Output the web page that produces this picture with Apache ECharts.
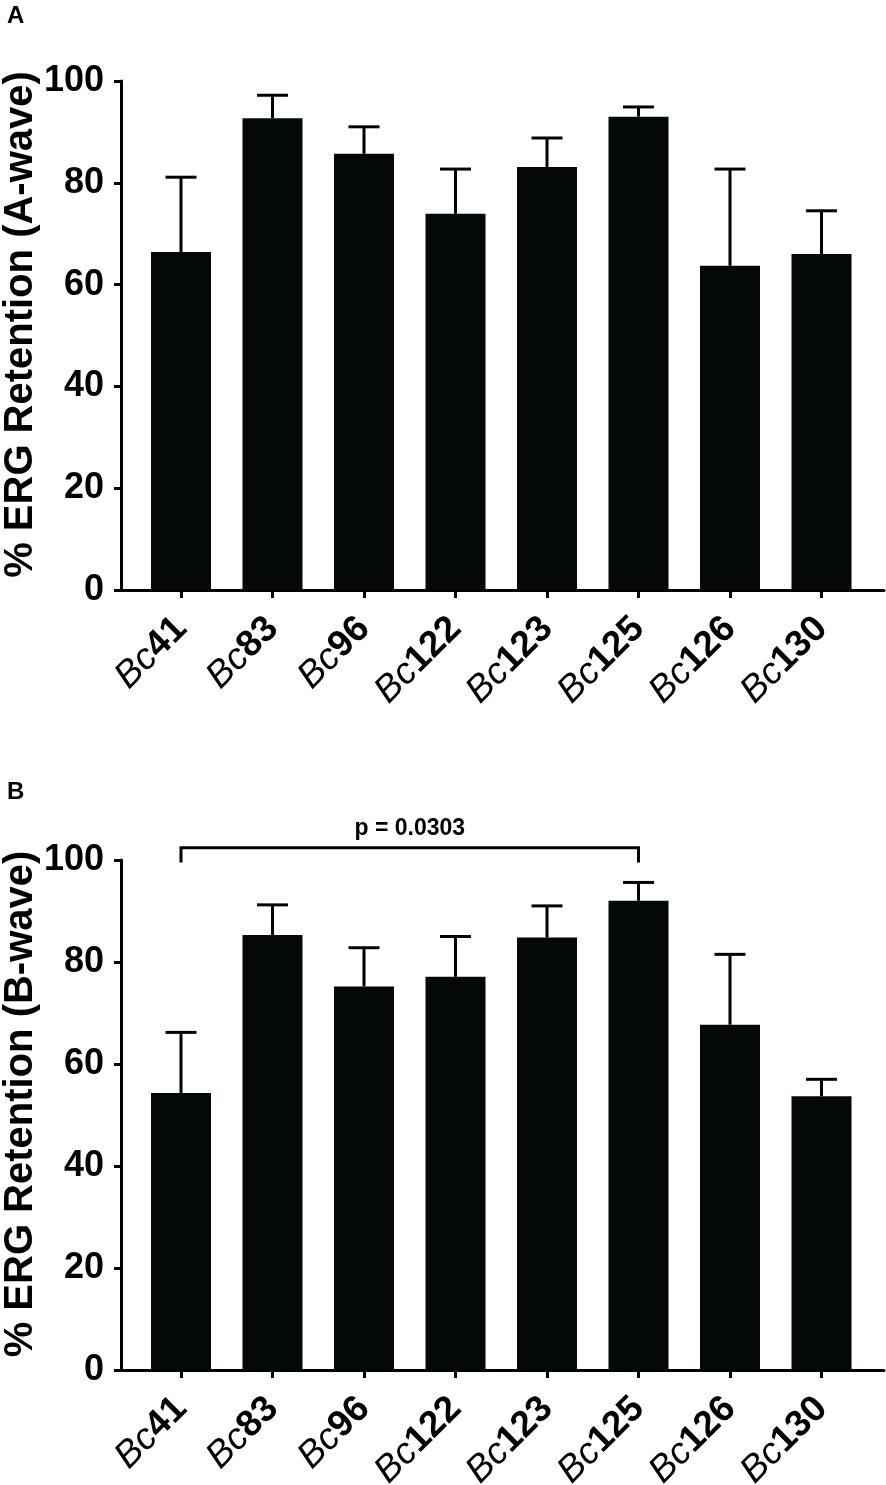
<!DOCTYPE html>
<html lang="en">
<head>
<meta charset="UTF-8">
<title>ERG Retention</title>
<script src="https://cdn.jsdelivr.net/npm/echarts@6/dist/echarts.min.js"></script>
<style>
  html, body { margin: 0; padding: 0; background: #fff; }
  #chart { width: 886px; height: 1485px; }
</style>
</head>
<body>
<div id="chart"></div>
<script>
// values
var strains = ['41', '83', '96', '122', '123', '125', '126', '130'];
var aWaveMean  = [66.4, 92.7, 85.7, 73.9, 83.1, 93.0, 63.7, 66.0];
var aWaveUpper = [81.1, 97.2, 91.0, 82.7, 88.8, 94.9, 82.7, 74.5];
var bWaveMean  = [54.3, 85.3, 75.2, 77.1, 84.8, 92.0, 67.7, 53.7];
var bWaveUpper = [66.2, 91.2, 82.8, 85.0, 91.0, 95.6, 81.5, 57.0];
var sigPair = [0, 5];
var sigLevel = 102.4;
var sigDrop = 99.5;
var sigText = 'p = 0.0303';

var font = 'Liberation Sans, Arial, Helvetica, sans-serif';
var black = '#050808';

function errorItem(params, api) {
  var base = api.coord([api.value(0), api.value(1)]);
  var top = api.coord([api.value(0), api.value(2)]);
  var half = 15.5;
  return {
    type: 'group',
    children: [
      { type: 'line', shape: { x1: base[0], y1: base[1], x2: top[0], y2: top[1] },
        style: { stroke: '#000', lineWidth: 3 } },
      { type: 'line', shape: { x1: top[0] - half, y1: top[1], x2: top[0] + half, y2: top[1] },
        style: { stroke: '#000', lineWidth: 3 } }
    ]
  };
}

function bracketItem(params, api) {
  var a0 = api.coord([api.value(0), api.value(3)]);
  var a1 = api.coord([api.value(0), api.value(2)]);
  var b1 = api.coord([api.value(1), api.value(2)]);
  var b0 = api.coord([api.value(1), api.value(3)]);
  return {
    type: 'group',
    children: [
      { type: 'polyline', shape: { points: [a0, a1, b1, b0] },
        style: { stroke: '#000', lineWidth: 3, fill: null } },
      { type: 'text', x: (a1[0] + b1[0]) / 2, y: a1[1] - 8,
        style: { text: sigText, fill: '#000', font: 'bold 23px ' + font,
                 align: 'center', verticalAlign: 'bottom' } }
    ]
  };
}

function errData(mean, upper) {
  return strains.map(function (s, i) { return [i, mean[i], upper[i]]; });
}

function lineAxisX(grid) {
  return {
    gridIndex: grid, type: 'value', min: 0, max: 1,
    axisLine: { show: true, lineStyle: { color: '#000', width: 3 } },
    axisTick: { show: false }, axisLabel: { show: false }, splitLine: { show: false }
  };
}

function catAxisX(grid) {
  return {
    gridIndex: grid, type: 'category', data: strains,
    axisLine: { show: false },
    axisTick: { show: true, alignWithLabel: true, length: 8, lineStyle: { color: '#000', width: 3 } },
    axisLabel: {
      rotate: 45, margin: 33, interval: 0,
      formatter: function (v) { return '{i|Bc}{b|' + v + '}'; },
      rich: {
        i: { fontFamily: font, fontSize: 37, fontStyle: 'italic', fontWeight: 'normal', color: '#000' },
        b: { fontFamily: font, fontSize: 37, fontWeight: 'bold', color: '#000' }
      }
    },
    splitLine: { show: false }
  };
}

function mainAxisY(grid, name) {
  return {
    gridIndex: grid, type: 'value', min: 0, max: 100, interval: 20,
    name: name, nameLocation: 'middle', nameGap: 80, nameRotate: 90, nameMoveOverlap: false,
    nameTextStyle: { fontFamily: font, fontSize: 40, fontWeight: 'bold', color: '#000', padding: [0, 0, 0, 22] },
    axisLine: { show: true, lineStyle: { color: '#000', width: 3 } },
    axisTick: { show: true, length: 7, lineStyle: { color: '#000', width: 3 } },
    axisLabel: { margin: 17, fontFamily: font, fontSize: 36, fontWeight: 'bold', color: '#000' },
    splitLine: { show: false }
  };
}

function hiddenAxisY(grid) {
  return {
    gridIndex: grid, type: 'value', min: 0, max: 100, interval: 20,
    axisLine: { show: false }, axisTick: { show: false }, axisLabel: { show: false },
    splitLine: { show: false }
  };
}

var chart = echarts.init(document.getElementById('chart'));
chart.setOption({
  backgroundColor: '#fff',
  animation: false,
  graphic: [
    { type: 'text', left: 7, top: 4,
      style: { text: 'A', fill: '#000', fontSize: 24, fontWeight: 'bold', fontFamily: font } },
    { type: 'text', left: 7, top: 780,
      style: { text: 'B', fill: '#000', fontSize: 24, fontWeight: 'bold', fontFamily: font } }
  ],
  grid: [
    { left: 121, right: 2, top: 81, height: 509, outerBoundsMode: 'none' },
    { left: 135.25, width: 732, top: 81, height: 509, outerBoundsMode: 'none' },
    { left: 121, right: 2, top: 860, height: 510, outerBoundsMode: 'none' },
    { left: 135.25, width: 732, top: 860, height: 510, outerBoundsMode: 'none' }
  ],
  xAxis: [lineAxisX(0), catAxisX(1), lineAxisX(2), catAxisX(3)],
  yAxis: [
    mainAxisY(0, '% ERG Retention (A-wave)'), hiddenAxisY(1),
    mainAxisY(2, '% ERG Retention (B-wave)'), hiddenAxisY(3)
  ],
  series: [
    { type: 'bar', xAxisIndex: 1, yAxisIndex: 1, data: aWaveMean, barWidth: 60,
      itemStyle: { color: black } },
    { type: 'custom', xAxisIndex: 1, yAxisIndex: 1, data: errData(aWaveMean, aWaveUpper),
      renderItem: errorItem, encode: { x: 0, y: [1, 2] }, z: 3 },
    { type: 'bar', xAxisIndex: 3, yAxisIndex: 3, data: bWaveMean, barWidth: 60,
      itemStyle: { color: black } },
    { type: 'custom', xAxisIndex: 3, yAxisIndex: 3, data: errData(bWaveMean, bWaveUpper),
      renderItem: errorItem, encode: { x: 0, y: [1, 2] }, z: 3 },
    { type: 'custom', xAxisIndex: 3, yAxisIndex: 3, clip: false,
      data: [[sigPair[0], sigPair[1], sigLevel, sigDrop]],
      renderItem: bracketItem, encode: { x: [0, 1], y: [2, 3] }, z: 3 }
  ]
});
</script>
</body>
</html>
